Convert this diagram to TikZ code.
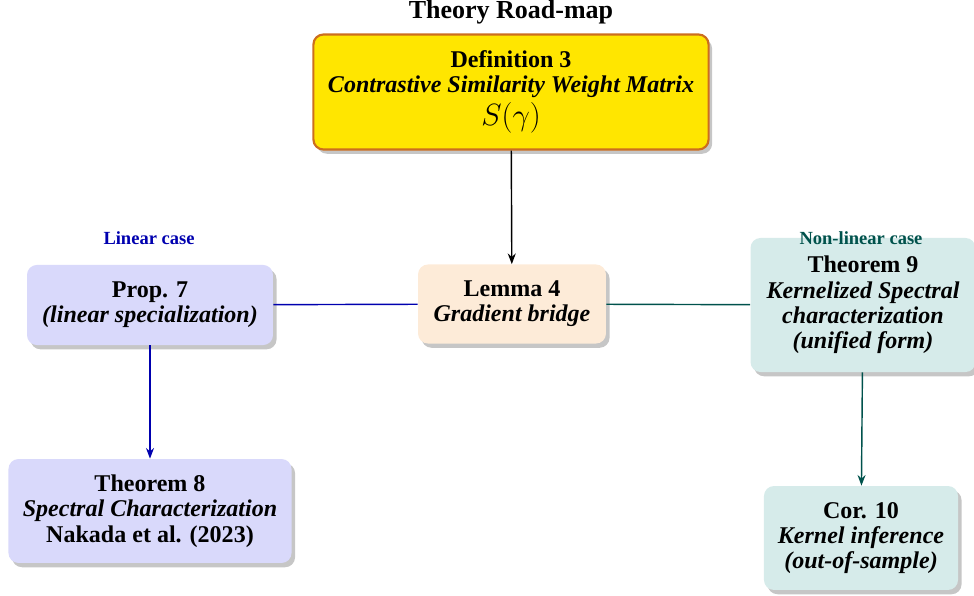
\documentclass[tikz,border=0pt]{standalone}
\usepackage{fontspec}
\setmainfont{Liberation Serif}
\usetikzlibrary{arrows.meta,shadows}

\definecolor{defyellow}{RGB}{255,230,0}
\definecolor{deforange}{RGB}{204,110,30}
\definecolor{lemmapeach}{RGB}{253,235,216}
\definecolor{linfill}{RGB}{217,217,251}
\definecolor{linblue}{RGB}{0,0,175}
\definecolor{nonfill}{RGB}{214,235,234}
\definecolor{nonteal}{RGB}{0,82,76}

\tikzset{
  box/.style={rounded corners=5.6pt, align=center, inner sep=2pt,
    font=\fontsize{13.5}{14.2}\selectfont,
    drop shadow={opacity=0.45, shadow xshift=2pt, shadow yshift=-2.4pt}},
  casetag/.style={font=\fontsize{10.4}{12}\selectfont\bfseries},
  arr/.style={-{Stealth[length=6pt,width=4.5pt]}, line width=0.8pt},
}

\begin{document}
\begin{tikzpicture}[x=0.5618pt, y=-0.5618pt]

    % frame of the picture
    \useasboundingbox (0, 0) rectangle (974, 596);

    % Title
    \node[font=\fontsize{14.6}{16}\selectfont\bfseries] (title) at (511, 12) {Theory Road-map};

    % Top definition
    \node[box, fill=defyellow, draw=deforange, line width=1.2pt,
          minimum width=222pt, minimum height=64.6pt] (def) at (511, 92)
        {\textbf{Definition 3}\\ \textbf{\textit{Contrastive Similarity Weight Matrix}}\\[1.5pt] {\fontsize{19}{20}\selectfont $S(\gamma)$}};

    % Central lemma
    \node[box, fill=lemmapeach, minimum width=105.6pt, minimum height=44.4pt] (lem) at (512, 304)
        {\textbf{Lemma 4}\\ \textbf{\textit{Gradient bridge}}};

    % Linear side
    \node[casetag, text=linblue] (lintag) at (149, 238) {Linear case};
    \node[box, fill=linfill, minimum width=138.2pt, minimum height=45pt] (prop) at (150, 305)
        {\textbf{Prop. 7}\\ \textbf{\textit{(linear specialization)}}};
    \node[box, fill=linfill, minimum width=159pt, minimum height=58.4pt] (thmA) at (150, 511)
        {\textbf{Theorem 8}\\ \textbf{\textit{Spectral Characterization}}\\ \textbf{Nakada et al. (2023)}};

    % Non-linear side
    \node[box, fill=nonfill, minimum width=126.4pt, minimum height=75.3pt] (thmB) at (863, 305)
        {\textbf{Theorem 9}\\ \textbf{\textit{Kernelized Spectral}}\\ \textbf{\textit{characterization}}\\ \textbf{\textit{(unified form)}}};
    \node[casetag, text=nonteal] (nontag) at (861, 238) {Non-linear case};
    \node[box, fill=nonfill, minimum width=109pt, minimum height=58.4pt] (cor) at (861, 538)
        {\textbf{Cor. 10}\\ \textbf{\textit{Kernel inference}}\\ \textbf{\textit{(out-of-sample)}}};

    % Connectors
    \draw[arr, black] (def) -- (lem);
    \draw[linblue, line width=0.8pt] (lem) -- (prop);
    \draw[nonteal, line width=0.8pt] (lem) -- (thmB);
    \draw[arr, linblue] (prop) -- (thmA);
    \draw[arr, nonteal] (thmB) -- (cor);

\end{tikzpicture}
\end{document}
